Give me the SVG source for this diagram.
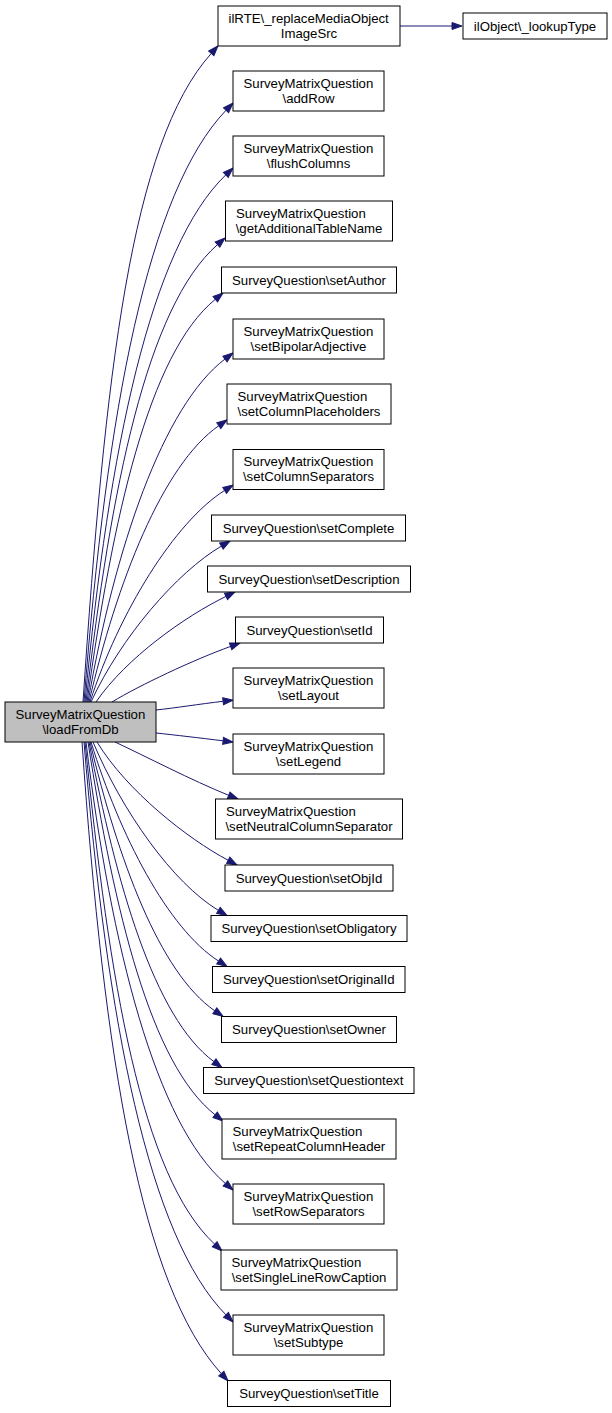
<svg xmlns="http://www.w3.org/2000/svg" width="612" height="1413" viewBox="0 0 612 1413">
<style>
.n rect{fill:#ffffff;stroke:#000000;stroke-width:1}
.src rect{fill:#bfbfbf}
text{font-family:"Liberation Sans",Arial,Helvetica,sans-serif;font-size:13.2px;fill:#000000}
.c{text-anchor:middle}
.e path{fill:none;stroke:#191970;stroke-width:1;marker-end:url(#arr)}
</style>
<defs>
<marker id="arr" viewBox="0 0 10 7" refX="0" refY="3.5" markerWidth="10" markerHeight="7" markerUnits="userSpaceOnUse" orient="auto" overflow="visible">
<path d="M0,0 L10,3.5 L0,7 z" fill="#191970" stroke="#191970" stroke-width="1"/>
</marker>
</defs>
<rect width="612" height="1413" fill="#ffffff"/>
<g id="edges" class="e">
<path d="M83,702 C105,374 131,142.6 211.3,53.4"/>
<path d="M84,702 C106.8,408.5 148,191.7 226.1,110.2"/>
<path d="M85,702 C108.9,447.4 150.9,246.7 225.8,174.9"/>
<path d="M86,702 C111,487.2 146.9,306.6 217.5,244.6"/>
<path d="M87,702 C112.9,517.2 148.5,353.9 215.3,299.3"/>
<path d="M88,702 C114.8,548.4 162.9,406.1 225,359"/>
<path d="M89,702 C116.9,581.8 162.6,464.8 218.8,425.7"/>
<path d="M90,702 C118.9,612.4 174.5,522.2 224.6,490.4"/>
<path d="M91,702 C120.8,637.3 177,572.2 221.4,546.1"/>
<path d="M96,702 C126,658 185.5,616.1 226,596.4"/>
<path d="M112,702 C140,685 193,660.1 230.6,646.4"/>
<path d="M156,710 C175,708 200,704 223.1,701.3"/>
<path d="M156,733 C175,735 200,738 223.1,740.8"/>
<path d="M115,742 C145,756 191.6,780.3 228.7,795.3"/>
<path d="M97,742 C127,791.2 187.6,838.7 228.2,860.3"/>
<path d="M93,742 C122.6,812 172.7,882.7 218.4,910.4"/>
<path d="M91,742 C119.8,835.4 167.7,928.4 218.6,961.1"/>
<path d="M90,742 C118,858.9 159.2,972.6 214.8,1010.8"/>
<path d="M89,742 C116.2,883.8 153.8,1017.4 213.9,1061.6"/>
<path d="M88,742 C114.3,911 150.6,1064.1 215.1,1114.8"/>
<path d="M86,742 C111.2,948 155.9,1123.7 225.4,1183.5"/>
<path d="M85,742 C109.3,982.2 141.2,1175.9 214.7,1244.2"/>
<path d="M84,742 C107.1,1023.9 148.7,1236.3 226,1314.9"/>
<path d="M82,742 C104.1,1061.2 141.4,1285.6 221.3,1373.6"/>
<path d="M400,26 L452,26"/>
</g>
<g id="n_src" class="n src"><rect x="5" y="702" width="151" height="40"/><text x="15.5" y="718.5">SurveyMatrixQuestion</text><text class="c" x="80.5" y="733.5">\loadFromDb</text></g>
<g id="n_ilrte" class="n"><rect x="218" y="6" width="182" height="40"/><text x="228.5" y="22.5">ilRTE\_replaceMediaObject</text><text class="c" x="309" y="37.5">ImageSrc</text></g>
<g id="n_lookup" class="n"><rect x="463" y="13" width="144" height="26"/><text class="c" x="535" y="30.5">ilObject\_lookupType</text></g>
<g id="n_addRow" class="n"><rect x="233" y="71" width="151" height="40"/><text x="243.5" y="87.5">SurveyMatrixQuestion</text><text class="c" x="308.5" y="102.5">\addRow</text></g>
<g id="n_flush" class="n"><rect x="233" y="136" width="151" height="40"/><text x="243.5" y="152.5">SurveyMatrixQuestion</text><text class="c" x="308.5" y="167.5">\flushColumns</text></g>
<g id="n_getAdd" class="n"><rect x="225.5" y="201" width="167" height="40"/><text x="236" y="217.5">SurveyMatrixQuestion</text><text class="c" x="309" y="232.5">\getAdditionalTableName</text></g>
<g id="n_setAuthor" class="n"><rect x="221.5" y="267" width="175" height="26"/><text class="c" x="309" y="284.5">SurveyQuestion\setAuthor</text></g>
<g id="n_setBipolar" class="n"><rect x="233" y="319" width="151" height="40"/><text x="243.5" y="335.5">SurveyMatrixQuestion</text><text class="c" x="308.5" y="350.5">\setBipolarAdjective</text></g>
<g id="n_setColPh" class="n"><rect x="227" y="384" width="164" height="40"/><text x="237.5" y="400.5">SurveyMatrixQuestion</text><text class="c" x="309" y="415.5">\setColumnPlaceholders</text></g>
<g id="n_setColSep" class="n"><rect x="233" y="449.5" width="151" height="40"/><text x="243.5" y="466">SurveyMatrixQuestion</text><text class="c" x="308.5" y="481">\setColumnSeparators</text></g>
<g id="n_setComplete" class="n"><rect x="211.5" y="515" width="194" height="26"/><text class="c" x="308.5" y="532.5">SurveyQuestion\setComplete</text></g>
<g id="n_setDescription" class="n"><rect x="207.5" y="566" width="203" height="26"/><text class="c" x="309" y="583.5">SurveyQuestion\setDescription</text></g>
<g id="n_setId" class="n"><rect x="235.5" y="617" width="148" height="26"/><text class="c" x="309.5" y="634.5">SurveyQuestion\setId</text></g>
<g id="n_setLayout" class="n"><rect x="233" y="668" width="151" height="40"/><text x="243.5" y="684.5">SurveyMatrixQuestion</text><text class="c" x="308.5" y="699.5">\setLayout</text></g>
<g id="n_setLegend" class="n"><rect x="233" y="734" width="151" height="40"/><text x="243.5" y="750.5">SurveyMatrixQuestion</text><text class="c" x="308.5" y="765.5">\setLegend</text></g>
<g id="n_setNeutral" class="n"><rect x="215.5" y="799" width="187" height="40"/><text x="226" y="815.5">SurveyMatrixQuestion</text><text class="c" x="309" y="830.5">\setNeutralColumnSeparator</text></g>
<g id="n_setObjId" class="n"><rect x="225" y="865" width="168" height="26"/><text class="c" x="309" y="882.5">SurveyQuestion\setObjId</text></g>
<g id="n_setObligatory" class="n"><rect x="211" y="915.5" width="196" height="26"/><text class="c" x="309" y="933">SurveyQuestion\setObligatory</text></g>
<g id="n_setOriginalId" class="n"><rect x="212.5" y="966.5" width="192.5" height="26"/><text class="c" x="308.75" y="984">SurveyQuestion\setOriginalId</text></g>
<g id="n_setOwner" class="n"><rect x="221.5" y="1016.5" width="175" height="26"/><text class="c" x="309" y="1034">SurveyQuestion\setOwner</text></g>
<g id="n_setQuestiontext" class="n"><rect x="203.5" y="1067.5" width="210.5" height="26"/><text class="c" x="308.75" y="1085">SurveyQuestion\setQuestiontext</text></g>
<g id="n_setRepeat" class="n"><rect x="222" y="1119" width="174" height="40"/><text x="232.5" y="1135.5">SurveyMatrixQuestion</text><text class="c" x="309" y="1150.5">\setRepeatColumnHeader</text></g>
<g id="n_setRowSep" class="n"><rect x="233" y="1184" width="151" height="40"/><text x="243.5" y="1200.5">SurveyMatrixQuestion</text><text class="c" x="308.5" y="1215.5">\setRowSeparators</text></g>
<g id="n_setSingleLine" class="n"><rect x="221" y="1250" width="176" height="40"/><text x="231.5" y="1266.5">SurveyMatrixQuestion</text><text class="c" x="309" y="1281.5">\setSingleLineRowCaption</text></g>
<g id="n_setSubtype" class="n"><rect x="233" y="1315" width="151" height="40"/><text x="243.5" y="1331.5">SurveyMatrixQuestion</text><text class="c" x="308.5" y="1346.5">\setSubtype</text></g>
<g id="n_setTitle" class="n"><rect x="227.5" y="1380.5" width="163" height="26"/><text class="c" x="309" y="1398">SurveyQuestion\setTitle</text></g>
</svg>
